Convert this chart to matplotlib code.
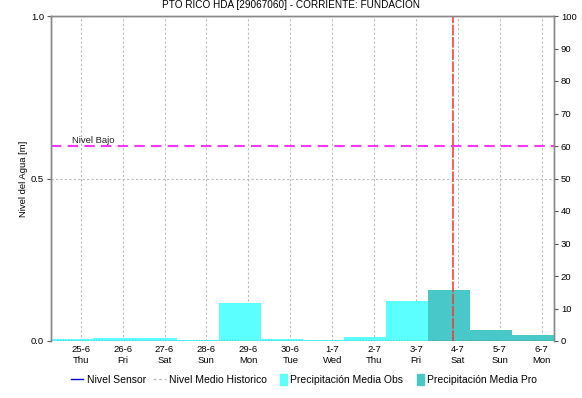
import matplotlib
matplotlib.use("Agg")
import matplotlib.pyplot as plt
from matplotlib.lines import Line2D
from matplotlib.patches import Patch, Rectangle
from matplotlib.legend_handler import HandlerPatch
from datetime import datetime, timedelta

plt.rcParams['font.family'] = ['Liberation Sans', 'DejaVu Sans']

title = "PTO RICO HDA [29067060] - CORRIENTE: FUNDACION"
tick_dates = [datetime(2020, 6, 25) + timedelta(days=i) for i in range(12)]
tick_labels = ["25-6\nThu", "26-6\nFri", "27-6\nSat", "28-6\nSun", "29-6\nMon", "30-6\nTue",
               "1-7\nWed", "2-7\nThu", "3-7\nFri", "4-7\nSat", "5-7\nSun", "6-7\nMon"]
obs_starts = [datetime(2020, 6, 24, 7) + timedelta(days=i) for i in range(9)]
obs_values = [0.5, 0.9, 0.9, 0.4, 11.8, 0.5, 0.3, 1.1, 12.2]
pro_starts = [datetime(2020, 7, 3, 7) + timedelta(days=i) for i in range(3)]
pro_values = [15.8, 3.5, 1.9]
nivel_bajo = 0.6
now_time = datetime(2020, 7, 3, 21)
x_start = datetime(2020, 6, 24, 7)
x_end = datetime(2020, 7, 6, 7)

fig = plt.figure(figsize=(5.82, 3.98), dpi=100)
ax = fig.add_axes([51/582, 1-341/398, 503/582, 325/398])
ax2 = ax.twinx()

ax.set_xlim(x_start, x_end)
ax.set_ylim(0, 1)
ax2.set_ylim(0, 100)

ax2.bar(obs_starts, obs_values, width=1.0, align='edge', color='#5CFFFF', linewidth=0)
ax2.bar(pro_starts, pro_values, width=1.0, align='edge', color='#48C8C8', linewidth=0)
ax2.axvline(now_time, color='#FF3030', lw=1.1, ls=(0, (7, 1)))

ax.axhline(nivel_bajo, color='#FF33FF', lw=1.5, ls=(0, (5, 3)), zorder=3)
ax.text(datetime(2020, 6, 24, 19), nivel_bajo + 0.003, "Nivel Bajo", fontsize=6.8,
        ha='left', va='bottom', color='#222222')

ax.set_xticks(tick_dates)
ax.set_xticklabels(tick_labels, fontsize=6.8, linespacing=1.3)
ax.set_yticks([0, 0.5, 1.0])
ax.set_yticklabels(["0.0", "0.5", "1.0"], fontsize=6.8)
ax2.set_yticks(range(0, 101, 10))
ax2.tick_params(axis='y', labelsize=6.8, length=3, color='#555555', pad=2)
ax.tick_params(axis='y', length=3, color='#555555', pad=2)
ax.tick_params(axis='x', length=0, pad=3)

ax.grid(axis='x', color='#BBBBBB', ls=(0, (2, 2)), lw=0.8)
ax.grid(axis='y', color='#BBBBBB', ls=(0, (2, 2)), lw=0.8)
ax.set_axisbelow(True)

for a in (ax, ax2):
    for s in ('left', 'right', 'top'):
        a.spines[s].set_color('#888888')
        a.spines[s].set_linewidth(1.0)
    a.spines['bottom'].set_visible(False)
ax2.axhline(0, color='#333333', lw=1.0, ls=(0, (1, 1)), zorder=5)

ax.set_ylabel("Nivel del Agua [m]", fontsize=6.8, labelpad=2)
fig.text(0.5, 0.987, title, ha='center', va='center', fontsize=7.2)


def narrow_patch(legend, orig_handle, xdescent, ydescent, width, height, fontsize):
    w = 5.0
    return Rectangle((width - xdescent - w, -ydescent - 1.2), w, height + 2.4)


handles = [Line2D([], [], color='#0000CC', lw=1),
           Line2D([], [], color='#BBBBBB', lw=1, ls=(0, (2, 2))),
           Patch(color='#5CFFFF'), Patch(color='#48C8C8')]
labels = ["Nivel Sensor", "Nivel Medio Historico", "Precipitación Media Obs", "Precipitación Media Pro"]
fig.legend(handles, labels, loc='center', bbox_to_anchor=(0.522, 0.045), ncol=4, frameon=False,
           fontsize=7.5, handlelength=1.2, handletextpad=0.3, columnspacing=0.75,
           handler_map={Patch: HandlerPatch(patch_func=narrow_patch)})

fig.savefig("out.png", dpi=100)
